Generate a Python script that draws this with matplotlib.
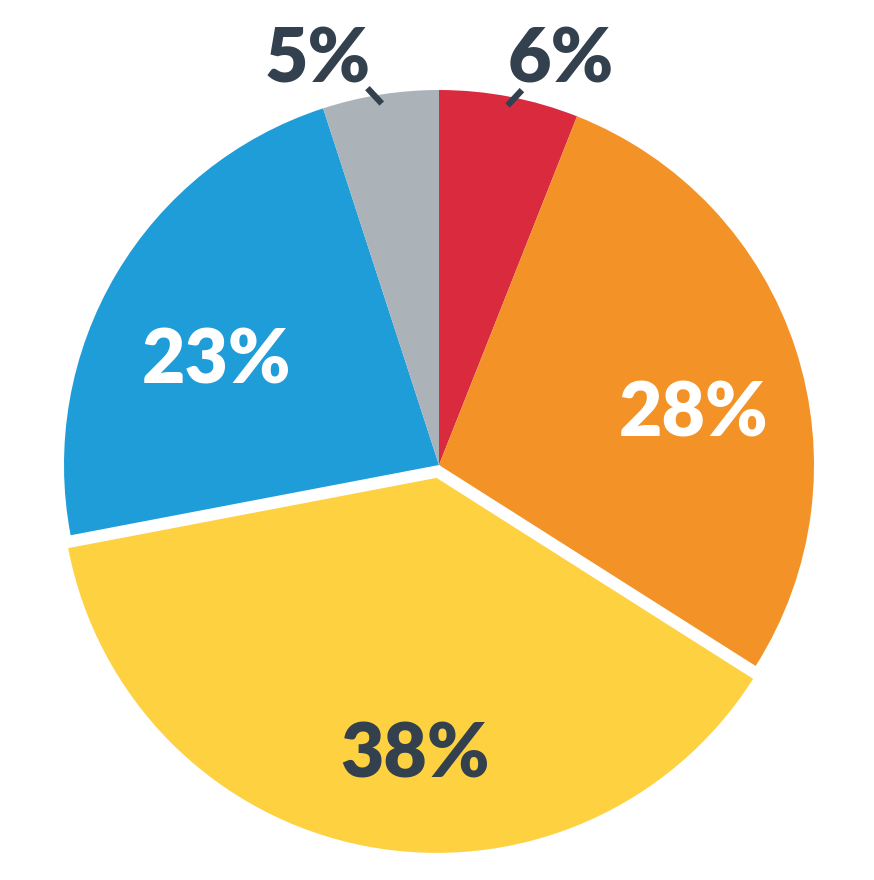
import numpy as np
import matplotlib.pyplot as plt

# dados do gráfico (sentido horário a partir do topo)
valores = [6, 28, 38, 23, 5]
rotulos = ["6%", "28%", "38%", "23%", "5%"]
cores = ["#DA2A3E", "#F39226", "#FED141", "#1F9DD9", "#ABB2B8"]
afastar = [0, 0, 0.035, 0, 0]

cor_texto = "#33404D"
fonte = dict(family=["Lato", "DejaVu Sans"], fontweight="heavy", fontsize=54)

fig = plt.figure(figsize=(8.74, 8.8), dpi=100)
ax = fig.add_axes([0, 0, 1, 1])

raio = 375
fatias, _ = ax.pie(
    valores,
    colors=cores,
    startangle=90,
    counterclock=False,
    radius=raio,
    explode=[e * raio for e in afastar],
    wedgeprops=dict(linewidth=0),
)

# ângulo médio de cada fatia
total = sum(valores)
inicio = 90.0
meios = []
for v in valores:
    meios.append(inicio - v / total * 180.0)
    inicio -= v / total * 360.0

# rótulos internos: (ângulo, raio, cor)
internos = {1: (11.2, 259, "white"), 2: (-94.8, 292, cor_texto), 3: (155.0, 245, "white")}
for i, (ang, r, c) in internos.items():
    a = np.radians(ang)
    ax.text(r * np.cos(a), r * np.sin(a), rotulos[i], color=c,
            ha="center", va="center", **fonte)

# rótulos externos com linha de chamada inclinada
for i, ha, inc in [(0, "left", 47), (4, "right", 133)]:
    a = np.radians(meios[i])
    x0, y0 = 366 * np.cos(a), 366 * np.sin(a)
    d = np.radians(inc)
    ax.plot([x0, x0 + 21 * np.cos(d)], [y0, y0 + 21 * np.sin(d)],
            color=cor_texto, linewidth=4.5, solid_capstyle="butt")
    x = 69 if ha == "left" else -68
    ax.text(x, 405, rotulos[i], color=cor_texto, ha=ha, va="center", **fonte)

ax.set_xlim(-439, 874 - 439)
ax.set_ylim(-(880 - 465), 465)
ax.set_aspect("equal")
ax.axis("off")

plt.savefig("out.png", dpi=100)
